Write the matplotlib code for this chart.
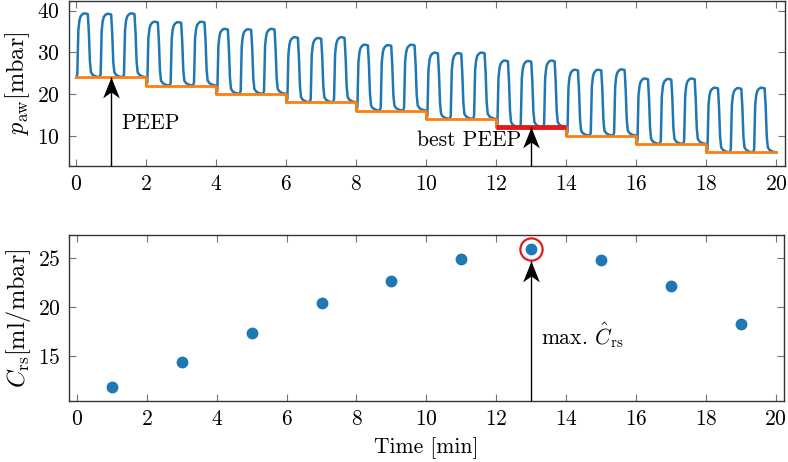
"""
PEEP titration chart: airway pressure and compliance over time.
"""
import numpy as np
import matplotlib
matplotlib.use('Agg')
import matplotlib.pyplot as plt
from matplotlib.path import Path

plt.rcParams['font.family'] = 'serif'
plt.rcParams['font.serif'] = ['cmr10']
plt.rcParams['mathtext.fontset'] = 'cm'
plt.rcParams['axes.formatter.use_mathtext'] = True
plt.rcParams['font.size'] = 15.5

# PEEP steps (mbar), each lasting 2 minutes
step_start = [0, 2, 4, 6, 8, 10, 12, 14, 16, 18]
step_len = 2.0
peep = [24, 22, 20, 18, 16, 14, 12, 10, 8, 6]

# peak airway pressure of every breath, 3 breaths per step (mbar)
breath_peak = [
    39.3, 39.2, 39.3,
    37.3, 37.2, 37.3,
    35.6, 35.5, 35.6,
    33.6, 33.4, 33.6,
    31.8, 31.7, 31.8,
    29.9, 29.8, 29.9,
    28.0, 27.9, 28.0,
    25.8, 25.8, 25.9,
    23.7, 23.6, 23.7,
    21.5, 21.4, 21.5,
]
breaths_per_step = 3

# normalised breath shape (time offset in min, fraction of driving pressure)
breath_t = [0.00, 0.03, 0.06, 0.09, 0.12, 0.16, 0.21, 0.26, 0.33, 0.36,
            0.39, 0.42, 0.47, 0.55, 0.666]
breath_v = [0.00, 0.05, 0.74, 0.89, 0.95, 0.98, 1.00, 1.00, 0.99, 0.70,
            0.25, 0.08, 0.04, 0.015, 0.00]

# respiratory system compliance, one estimate per step (ml/mbar)
c_time = [1, 3, 5, 7, 9, 11, 13, 15, 17, 19]
c_rs = [11.85, 14.45, 17.4, 20.45, 22.6, 24.9, 25.9, 24.75, 22.1, 18.3]

best_idx = 6

c_blue = '#1f77b4'
c_orange = '#ff7f0e'
c_red = '#e31a1c'

# stealth-like arrow head, tip at the origin
head = Path([(0, 0), (-0.4, -1), (0, -0.72), (0.4, -1), (0, 0)],
            [Path.MOVETO, Path.LINETO, Path.LINETO, Path.LINETO, Path.CLOSEPOLY])


def draw_arrow(ax, x, y_from, y_to):
    ax.plot([x, x], [y_from, y_to], color='black', linewidth=1.0,
            solid_capstyle='butt', zorder=5, clip_on=False)
    ax.plot([x], [y_to], marker=head, markersize=30, color='black',
            markeredgewidth=0, zorder=6, clip_on=False)


# build pressure trace from the breath template
period = step_len / breaths_per_step
t_trace = []
p_trace = []
for i, p in enumerate(breath_peak):
    s = i // breaths_per_step
    t0 = step_start[s] + (i % breaths_per_step) * period
    for dt, v in zip(breath_t, breath_v):
        t_trace.append(t0 + dt)
        p_trace.append(peep[s] + (p - peep[s]) * v)

fig = plt.figure(figsize=(7.88, 4.62), dpi=100)
ax1 = fig.add_axes([0.087, 0.641, 0.909, 0.357])
ax2 = fig.add_axes([0.088, 0.132, 0.907, 0.359])

# --- top: airway pressure ---
ax1.plot(t_trace, p_trace, color=c_blue, linewidth=1.8, zorder=2)
step_x = step_start + [step_start[-1] + step_len]
step_y = peep + [peep[-1]]
ax1.step(step_x, step_y, where='post', color=c_orange, linewidth=2.0, zorder=3)
ax1.hlines(peep[best_idx], step_start[best_idx], step_start[best_idx] + step_len,
           color=c_red, linewidth=3.5, zorder=4)

ax1.set_xlim(-0.22, 20.24)
ax1.set_ylim(2.8, 42.3)
ax1.set_yticks([10, 20, 30, 40])
ax1.set_xticks(range(0, 21, 2))
ax1.set_ylabel(r'$p_{\mathrm{aw}}$[mbar]', fontsize=17.5)

draw_arrow(ax1, 1, 2.8, peep[0])
ax1.text(1.3, 12.9, 'PEEP', ha='left', va='center')
draw_arrow(ax1, 13, 2.8, peep[best_idx])
ax1.text(12.72, 9.0, 'best PEEP', ha='right', va='center')

# --- bottom: compliance ---
ax2.plot(c_time, c_rs, 'o', color=c_blue, markersize=7.5, zorder=3)
ax2.plot(c_time[best_idx], c_rs[best_idx], 'o', markerfacecolor='none',
         markeredgecolor=c_red, markeredgewidth=1.6, markersize=16, zorder=4)
draw_arrow(ax2, 13, 10.45, 24.72)
ax2.text(13.28, 17.1, r'max. $\hat{C}_{\mathrm{rs}}$', ha='left', va='center')

ax2.set_xlim(-0.22, 20.24)
ax2.set_ylim(10.45, 27.3)
ax2.set_yticks([15, 20, 25])
ax2.set_xticks(range(0, 21, 2))
ax2.set_ylabel(r'$C_{\mathrm{rs}}$[ml/mbar]', fontsize=17.5)
ax2.set_xlabel('Time [min]', labelpad=6)

for ax in (ax1, ax2):
    ax.tick_params(direction='in', top=True, right=True, length=5,
                   color='0.45', width=0.8, pad=6)
    for sp in ax.spines.values():
        sp.set_color('0.2')
        sp.set_linewidth(1.0)

fig.align_ylabels([ax1, ax2])

fig.savefig('out.png', dpi=100)
plt.close(fig)
